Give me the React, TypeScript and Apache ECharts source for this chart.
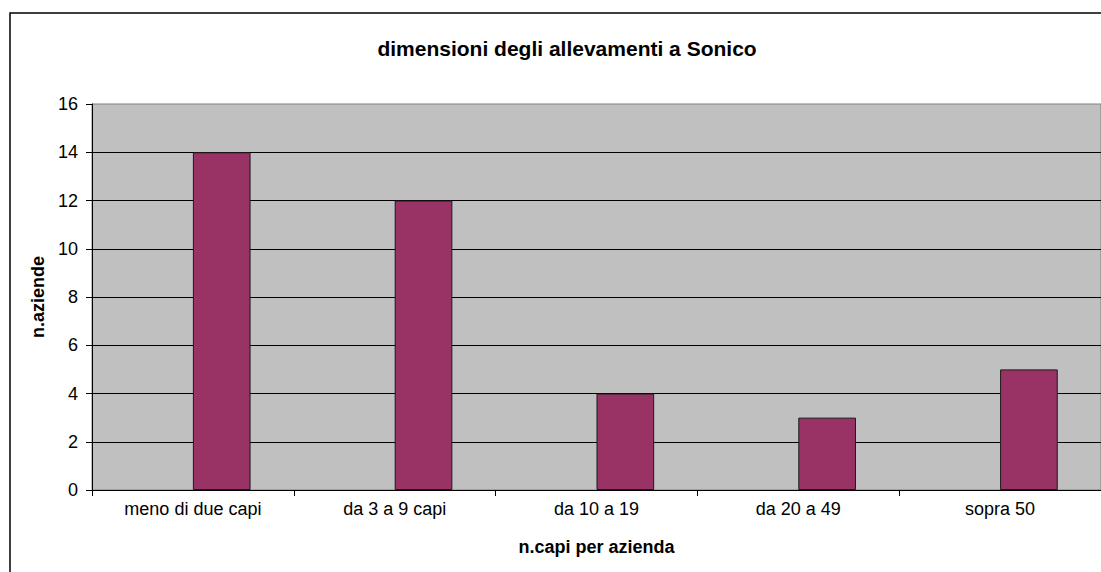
import React, { useEffect, useRef } from "react";
import * as echarts from "echarts";

const categories = ["meno di due capi", "da 3 a 9 capi", "da 10 a 19", "da 20 a 49", "sopra 50"];
const placeholderValues = [null, null, null, null, null];
const aziendeValues = [14, 12, 4, 3, 5];
const yTicks = { min: 0, max: 16, interval: 2 };

const titleText = "dimensioni degli allevamenti a Sonico";
const xName = "n.capi per azienda";
const yName = "n.aziende";

const FONT = "'Liberation Sans', Arial, sans-serif";

export default function App() {
  const ref = useRef<HTMLDivElement>(null);
  useEffect(() => {
    if (!ref.current) return;
    const chart = echarts.init(ref.current, null, { renderer: "svg" });
    chart.setOption({
      animation: false,
      backgroundColor: "#ffffff",
      textStyle: { fontFamily: FONT },
      title: {
        text: titleText,
        left: 562,
        top: 33,
        textAlign: "center",
        textStyle: { fontFamily: FONT, fontSize: 21, fontWeight: "bold", color: "#000" },
      },
      graphic: [
        {
          type: "polyline",
          z: -10,
          silent: true,
          shape: { points: [[1101, 13], [10, 13], [10, 572]] },
          style: { fill: "none", stroke: "#000", lineWidth: 1.5 },
        },
      ],
      grid: {
        left: 92,
        top: 104,
        right: -2,
        bottom: 82,
        show: true,
        backgroundColor: "#C0C0C0",
        borderColor: "#808080",
        borderWidth: 1,
      },
      xAxis: {
        type: "category",
        data: categories,
        name: xName,
        nameLocation: "middle",
        nameGap: 48,
        nameTextStyle: { fontFamily: FONT, fontSize: 18, fontWeight: "bold", color: "#000" },
        axisLine: { show: true, lineStyle: { color: "#000", width: 1 } },
        axisTick: { show: true, length: 6, alignWithLabel: false, lineStyle: { color: "#000" } },
        axisLabel: { fontFamily: FONT, fontSize: 18, color: "#000", margin: 10, interval: 0 },
        splitLine: { show: false },
      },
      yAxis: {
        type: "value",
        min: yTicks.min,
        max: yTicks.max,
        interval: yTicks.interval,
        name: yName,
        nameLocation: "middle",
        nameGap: 44,
        nameTextStyle: { fontFamily: FONT, fontSize: 18, fontWeight: "bold", color: "#000" },
        axisLine: { show: true, lineStyle: { color: "#000", width: 1 } },
        axisTick: { show: true, length: 6, lineStyle: { color: "#000" } },
        axisLabel: { fontFamily: FONT, fontSize: 18, color: "#000", margin: 14 },
        splitLine: { show: true, showMaxLine: false, lineStyle: { color: "#000", width: 1 } },
      },
      series: [
        {
          type: "bar",
          name: "vuota",
          data: placeholderValues,
          barGap: "0%",
          barCategoryGap: "42.857%",
        },
        {
          type: "bar",
          name: "aziende",
          data: aziendeValues,
          barGap: "0%",
          barCategoryGap: "42.857%",
          itemStyle: { color: "#993366", borderColor: "#1a1a1a", borderWidth: 1 },
        },
      ],
    });
    return () => chart.dispose();
  }, []);
  return (
    <div
      ref={ref}
      style={{ position: "absolute", left: 0, top: 0, width: 1101, height: 572 }}
    />
  );
}
